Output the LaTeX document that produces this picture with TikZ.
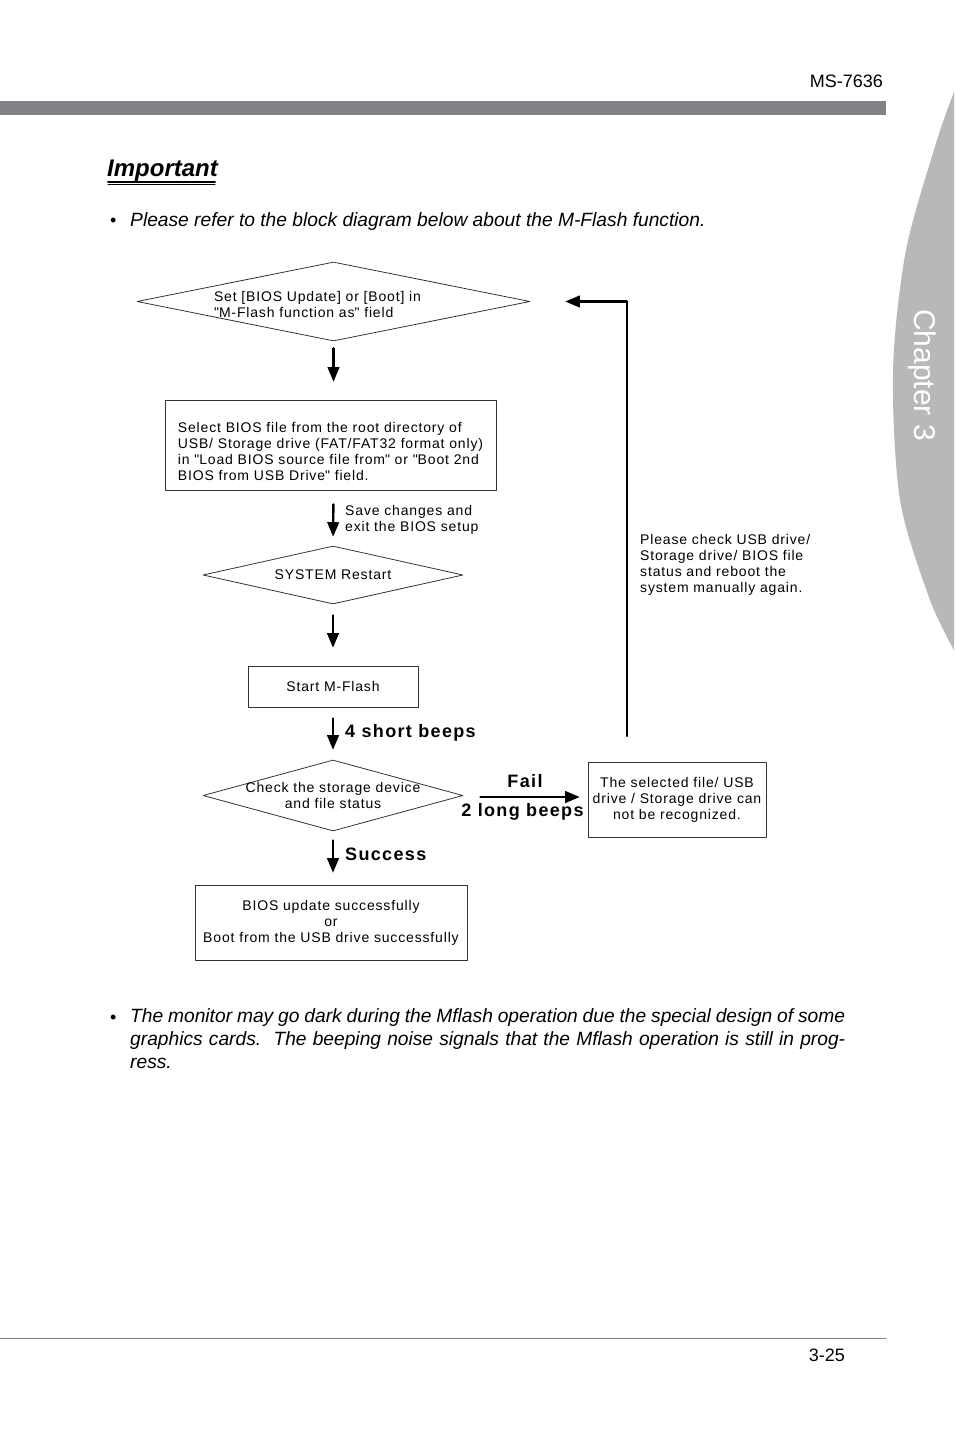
\documentclass[tikz,border=0pt]{standalone}
\usepackage{fontspec}
\setmainfont{Liberation Sans}
\newfontfamily\flowfont[LetterSpace=6]{Liberation Sans}
\newfontfamily\beepfont[LetterSpace=7.5]{Liberation Sans}
\usetikzlibrary{arrows,shapes.geometric}
\definecolor{bargray}{RGB}{128,130,133}
\definecolor{tabgray}{RGB}{184,183,186}
\newcommand{\dq}{\textquotedbl}
\tikzset{
  flow/.style={draw=black!80,line width=0.8pt,inner sep=0pt},
  dia/.style={flow,shape=diamond},
  boxx/.style={flow,rectangle,font=\flowfont\fontsize{14}{16}\selectfont},
  lbl/.style={font=\flowfont\fontsize{14}{16}\selectfont,inner sep=0pt},
  beep/.style={font=\beepfont\fontsize{18}{20}\selectfont\bfseries,inner sep=0pt},
  arr/.style={->,line width=2.4pt},
}
\begin{document}
\begin{tikzpicture}[line cap=round,line join=round,>=triangle 45,x=1pt,y=-1pt]
\useasboundingbox (0,0) rectangle (954,1432);
% page head
\fill[tabgray] plot[smooth] coordinates {(954,92) (937,140) (906,250) (893,370) (900,500) (930,600) (954,650)} -- cycle;
\node[rotate=-90,text=white,font=\fontsize{30}{30}\selectfont] (chap) at (922,375) {Chapter 3};
\fill[bargray] (0,101) rectangle (886,115);
\node[anchor=base east,font=\fontsize{18}{20}\selectfont,inner sep=0pt] (model) at (883,87) {MS-7636};
\node[anchor=base west,font=\fontsize{24}{24}\selectfont\bfseries\itshape,inner sep=0pt] (imp) at (107,176) {Important};
\draw[line width=2pt] (108,181.5)-- (215,181.5);
\draw[line width=1pt] (108,184.5)-- (215,184.5);
\node[anchor=base west,font=\fontsize{18}{22}\selectfont,inner sep=0pt] (dot1) at (110,226) {•};
\node[anchor=base west,font=\fontsize{19.2}{23}\selectfont\itshape,inner sep=0pt] (note1) at (130,226) {Please refer to the block diagram below about the M-Flash function.};
% flow chart
\node[dia,aspect=4.97,minimum width=393,minimum height=79,
  label={[lbl,align=left,xshift=-16pt,yshift=-3pt]center:Set [BIOS Update] or [Boot] in\\\dq M-Flash function as\dq{} field}] (upd) at (333.5,301.5) {};
\node[flow,minimum width=331,minimum height=90,
  label={[lbl,align=left,yshift=-6pt]center:Select BIOS file from the root directory of\\USB/ Storage drive (FAT/FAT32 format only)\\in \dq Load BIOS source file from\dq{} or \dq Boot 2nd\\BIOS from USB Drive\dq{} field.}] (sel) at (330.5,445) {};
\node[dia,aspect=4.48,minimum width=260,minimum height=58,
  label={[lbl]center:SYSTEM Restart}] (rst) at (333,575) {};
\node[boxx,minimum width=170,minimum height=41] (start) at (333,686.5) {Start M-Flash};
\node[dia,aspect=3.66,minimum width=260,minimum height=71,
  label={[lbl,align=center]center:Check the storage device\\and file status}] (chk) at (333,795.5) {};
\node[boxx,minimum width=178,minimum height=75,align=center] (nrec) at (677,799.5) {The selected file/ USB\\drive / Storage drive can\\not be recognized.};
\node[boxx,minimum width=272,minimum height=75,align=center] (done) at (331,922.5) {BIOS update successfully\\or\\Boot from the USB drive successfully};
\coordinate (back) at (627,736);
\draw[arr,shorten <=7pt,shorten >=18pt] (upd.south) -- (upd.south |- sel.north);
\draw[arr,shorten <=14pt,shorten >=9pt] (upd.south |- sel.south) -- (rst.north);
\draw[arr,shorten <=11pt,shorten >=18pt] (rst.south) -- (start.north);
\draw[arr,shorten <=11pt,shorten >=10pt] (start.south) -- (chk.north);
\draw[arr,shorten <=9pt,shorten >=12pt] (chk.south) -- (chk.south |- done.north);
\draw[arr,shorten <=17pt,shorten >=8pt] ([yshift=-1.5pt]chk.east) -- ([yshift=-1.5pt]chk.east -| nrec.west);
\draw[arr,shorten >=35pt] (back) |- (upd.east);
\node[lbl,anchor=west,align=left] (save) at (345,520) {Save changes and\\exit the BIOS setup};
\node[beep,anchor=west] (short) at (345,733) {4 short beeps};
\node[beep] (fail) at (525,781) {Fail};
\node[beep] (long) at (522.5,812) {2 long beeps};
\node[beep,anchor=west] (succ) at (345,854) {Success};
\node[lbl,anchor=west,align=left] (chkusb) at (640,565) {Please check USB drive/\\Storage drive/ BIOS file\\status and reboot the\\system manually again.};
% page foot
\node[anchor=base west,font=\fontsize{18}{22}\selectfont,inner sep=0pt] (dot2) at (110,1023) {•};
\node[anchor=north west,text width=715,align=justify,font=\fontsize{19.2}{23}\selectfont\itshape,inner sep=0pt] (note2) at (130,1008.5) {The monitor may go dark during the Mflash operation due the special design of some\linebreak graphics cards.\ \ The beeping noise signals that the Mflash operation is still in prog-\linebreak ress.};
\draw[bargray,line width=1pt] (0,1338)-- (886,1338);
\node[anchor=base east,font=\fontsize{18}{20}\selectfont,inner sep=0pt] (page) at (845,1361) {3-25};
\end{tikzpicture}
\end{document}
